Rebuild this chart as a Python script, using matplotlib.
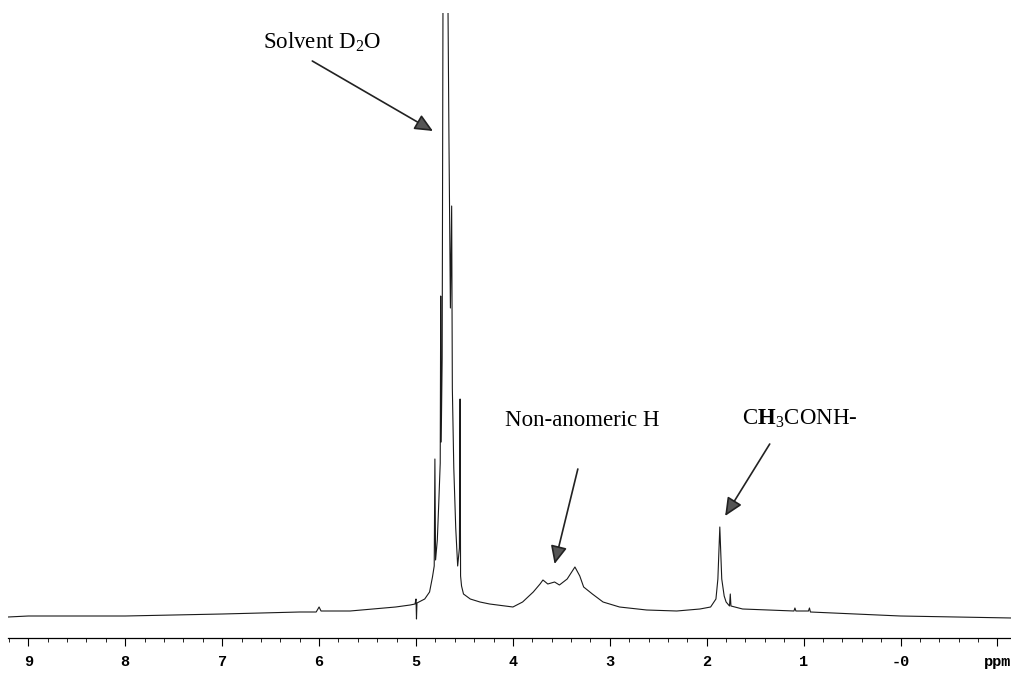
import matplotlib
matplotlib.use("Agg")
import matplotlib.pyplot as plt

# Spectrum trace (chemical shift in ppm, intensity in arbitrary units)
ppm = [9.21, 9.00, 8.00, 7.00, 6.20, 6.03, 6.00, 5.98, 5.68, 5.21,
       5.06, 5.01, 5.00, 4.995, 4.99, 4.91, 4.86, 4.83, 4.812, 4.805,
       4.798, 4.78, 4.765, 4.75, 4.745, 4.74, 4.73, 4.72, 4.675, 4.66,
       4.645, 4.632, 4.625, 4.61, 4.59, 4.57, 4.552, 4.545, 4.54, 4.53,
       4.51, 4.44, 4.34, 4.24, 4.08, 4.00, 3.90, 3.79, 3.72, 3.69,
       3.64, 3.57, 3.52, 3.44, 3.36, 3.31, 3.27, 3.18, 3.07, 2.90,
       2.62, 2.31, 2.07, 1.96, 1.905, 1.885, 1.865, 1.845, 1.82, 1.80,
       1.765, 1.757, 1.75, 1.63, 1.10, 1.09, 1.08, 0.95, 0.94, 0.93,
       0.00, -1.15]
intensity = [21, 22, 22, 24, 26, 26, 31, 27, 27, 31,
             33, 34, 39, 19, 35, 39, 46, 61, 72, 179,
             78, 98, 135, 175, 342, 196, 280, 700, 700, 500,
             330, 432, 250, 170, 110, 72, 90, 239, 62, 52,
             44, 39, 36, 34, 32, 31, 36, 46, 54, 58,
             54, 56, 53, 59, 71, 62, 51, 44, 36, 31,
             28, 27, 29, 31, 39, 59, 111, 59, 42, 36,
             32, 44, 32, 29, 27, 30, 27, 27, 30, 26,
             22, 20]

tick_pos = [9, 8, 7, 6, 5, 4, 3, 2, 1, 0, -1]
tick_labels = ["9", "8", "7", "6", "5", "4", "3", "2", "1", "-0", "ppm"]

# label text, text centre, arrow tail, arrow tip (ppm, intensity)
labels = ["Solvent D$_2$O", "Non-anomeric H", r"C$\mathbf{H}_{\mathrm{3}}$CONH-"]
label_xy = [(5.97, 596), (3.28, 217), (1.04, 219)]
arrow_tail = [(6.07, 577), (3.33, 169), (1.35, 194)]
arrow_tip = [(4.825, 507), (3.57, 74), (1.81, 122)]

plt.rcParams["mathtext.fontset"] = "custom"
plt.rcParams["mathtext.rm"] = "Liberation Serif"
plt.rcParams["mathtext.it"] = "Liberation Serif:italic"
plt.rcParams["mathtext.bf"] = "Liberation Serif:bold"

fig = plt.figure(figsize=(10.12, 6.76), dpi=100)
ax = fig.add_axes([8 / 1012, 38 / 676, 1 - 8 / 1012, 625 / 676])

ax.plot(ppm, intensity, color="#1a1a1a", lw=0.8)
ax.set_xlim(9.21, -1.15)
ax.set_ylim(0, 625)

# only the bottom axis, like the spectrometer printout
for side in ["top", "left", "right"]:
    ax.spines[side].set_visible(False)
ax.spines["bottom"].set_linewidth(0.9)
ax.set_yticks([])
ax.set_xticks(tick_pos)
ax.set_xticklabels(tick_labels, fontfamily="Liberation Mono",
                   fontweight="bold", fontsize=11)
minor = [9.2 - 0.2 * i for i in range(52)]
ax.set_xticks(minor, minor=True)
ax.tick_params(axis="x", which="major", direction="out", length=6,
               width=0.8, pad=6)
ax.tick_params(axis="x", which="minor", direction="out", length=3,
               width=0.6)

for text, xy, tail, tip in zip(labels, label_xy, arrow_tail, arrow_tip):
    ax.text(xy[0], xy[1], text, fontfamily="Liberation Serif",
            fontsize=16.5, ha="center", va="center")
    ax.annotate("", xy=tip, xytext=tail,
                arrowprops=dict(arrowstyle="-|>,head_length=0.55,head_width=0.25",
                                mutation_scale=20, lw=1.2, fc="#555555",
                                ec="#222222", shrinkA=0, shrinkB=0))

fig.savefig("out.png", dpi=100)
